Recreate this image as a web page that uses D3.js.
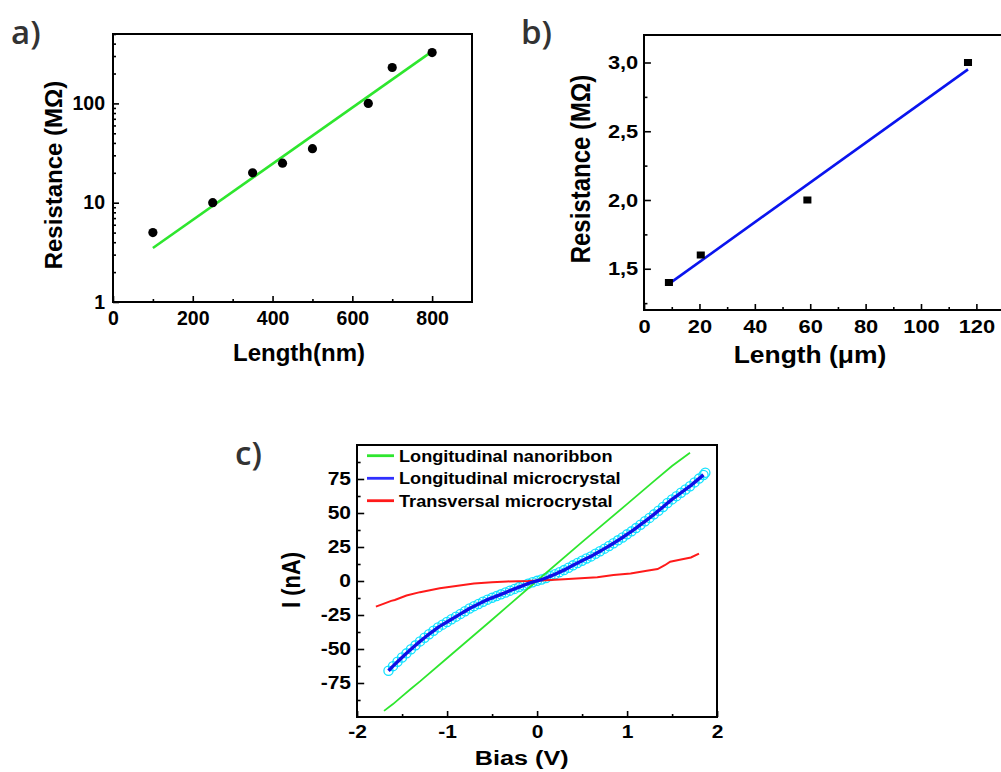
<!DOCTYPE html>
<html><head><meta charset="utf-8">
<script src="https://cdn.jsdelivr.net/npm/d3@7"></script>
<style>body{margin:0;background:#fff} svg{display:block}</style>
</head><body><svg id="chart" width="1001" height="772"></svg>
<script>
// ---------- data: panel a ----------
const aLength = [100, 250, 350, 425, 500, 640, 700, 800];
const aResistance = [5, 10, 20, 25, 35, 100, 230, 325];
const aFitLength = [100, 800];
const aFitResistance = [3.5, 334];
const aXTicks = [0, 200, 400, 600, 800];
const aXTickLabels = ["0", "200", "400", "600", "800"];
const aXMinor = [100, 300, 500, 700];
const aYTicks = [1, 10, 100];
const aYTickLabels = ["1", "10", "100"];
const aYMinor = [2,3,4,5,6,7,8,9,20,30,40,50,60,70,80,90,200,300,400,500];

// ---------- data: panel b ----------
const bLength = [9, 20.5, 59, 117];
const bResistance = [1.4, 1.6, 2.0, 3.0];
const bFitLength = [9, 117];
const bFitResistance = [1.39, 2.95];
const bXTicks = [0, 20, 40, 60, 80, 100, 120];
const bXTickLabels = ["0", "20", "40", "60", "80", "100", "120"];
const bXMinor = [10, 30, 50, 70, 90, 110];
const bYTicks = [1.5, 2.0, 2.5, 3.0];
const bYTickLabels = ["1,5", "2,0", "2,5", "3,0"];
const bYMinor = [1.25, 1.75, 2.25, 2.75];

// ---------- data: panel c ----------
const cNames = ["Longitudinal nanoribbon", "Longitudinal microcrystal", "Transversal microcrystal"];
const cNanoV = [-1.70,-1.60,-1.50,-1.40,-1.30,-1.00,-0.50,0.00,0.50,1.00,1.30,1.50,1.70];
const cNanoI = [-95.5,-90.5,-84.8,-79.2,-73.8,-56.8,-28.5,0.2,28.6,56.5,73.4,84.5,94.3];
const cMicroV = [-1.65,-1.60,-1.55,-1.50,-1.45,-1.40,-1.35,-1.30,-1.25,-1.20,-1.15,-1.10,-1.05,-1.00,-0.95,-0.90,-0.85,-0.80,-0.75,-0.70,-0.65,-0.60,-0.55,-0.50,-0.45,-0.40,-0.35,-0.30,-0.25,-0.20,-0.15,-0.10,-0.05,0.00,0.05,0.10,0.15,0.20,0.25,0.30,0.35,0.40,0.45,0.50,0.55,0.60,0.65,0.70,0.75,0.80,0.85,0.90,0.95,1.00,1.05,1.10,1.15,1.20,1.25,1.30,1.35,1.40,1.45,1.50,1.55,1.60,1.65,1.70,1.75,1.80,1.85,1.87];
const cMicroI = [-66.0,-62.6,-59.4,-56.2,-53.2,-50.2,-47.3,-44.4,-41.7,-39.1,-36.6,-34.1,-32.1,-30.1,-28.1,-26.2,-24.2,-22.2,-20.2,-18.5,-16.9,-15.3,-13.7,-12.4,-11.1,-9.8,-8.5,-7.1,-5.8,-4.5,-3.2,-2.0,-0.9,0.1,1.1,2.2,3.6,5.0,6.5,8.0,9.7,11.5,13.2,14.9,16.6,18.1,20.0,21.9,23.8,25.7,27.8,29.9,32.0,34.3,36.5,38.9,41.4,43.9,46.4,49.0,51.7,54.4,57.3,60.0,62.4,64.9,67.3,69.7,72.5,75.3,78.0,79.6];
const cTransV = [-1.79,-1.70,-1.62,-1.58,-1.45,-1.30,-1.08,-0.90,-0.70,-0.50,-0.33,-0.10,0.15,0.30,0.67,0.85,1.04,1.22,1.34,1.38,1.42,1.48,1.60,1.71,1.80];
const cTransI = [-18.8,-16.6,-14.6,-14.0,-10.7,-8.2,-5.4,-3.6,-1.9,-0.9,-0.3,0.0,0.7,1.2,2.7,4.4,5.6,7.5,8.8,10.2,11.6,14.2,15.8,17.3,20.2];
const cXTicks = [-2, -1, 0, 1, 2];
const cXTickLabels = ["-2", "-1", "0", "1", "2"];
const cXMinor = [-1.5, -0.5, 0.5, 1.5];
const cYTicks = [-75, -50, -25, 0, 25, 50, 75];
const cYTickLabels = ["-75", "-50", "-25", "0", "25", "50", "75"];
const cYMinor = [-87.5, -62.5, -37.5, -12.5, 12.5, 37.5, 62.5, 87.5];

// ---------- drawing ----------
const FONT = "'Liberation Sans', Arial, Helvetica, sans-serif";
const svg = d3.select("#chart");
svg.append("rect").attr("width", 1001).attr("height", 772).attr("fill", "#fff");

const zip = (a, b) => a.map((v, i) => [v, b[i]]);

function drawAxes(g, x, y, iw, ih, o) {
  const lab = (ticks, labels) => d => labels[ticks.indexOf(d)];
  const style = sel => {
    sel.select(".domain").remove();
    sel.attr("font-family", FONT).attr("font-size", o.fs).attr("font-weight", "bold");
    sel.selectAll("line").attr("stroke", "#000").attr("stroke-width", 1.6).attr("vector-effect", "non-scaling-stroke");
    sel.selectAll("text").attr("fill", "#000");
  };
  g.append("g").attr("transform", `translate(0,${ih})`)
    .call(d3.axisBottom(x).tickValues(o.xt).tickFormat(lab(o.xt, o.xl)).tickSize(-6).tickSizeOuter(0).tickPadding(o.xpad)).call(style);
  g.append("g").attr("transform", `translate(0,${ih})`)
    .call(d3.axisBottom(x).tickValues(o.xm).tickFormat("").tickSize(-3).tickSizeOuter(0)).call(style);
  g.append("g")
    .call(d3.axisLeft(y).tickValues(o.yt).tickFormat(lab(o.yt, o.yl)).tickSize(-6).tickSizeOuter(0).tickPadding(o.ypad)).call(style);
  g.append("g")
    .call(d3.axisLeft(y).tickValues(o.ym).tickFormat("").tickSize(-3).tickSizeOuter(0)).call(style);
}
function frame(g, iw, ih) {
  g.append("rect").attr("width", iw).attr("height", ih).attr("fill", "none")
    .attr("stroke", "#000").attr("stroke-width", 2).attr("vector-effect", "non-scaling-stroke");
}
function title(g, txt, x, y, fs, rot) {
  const t = g.append("text").attr("font-family", FONT).attr("font-weight", "bold")
    .attr("font-size", fs).attr("text-anchor", "middle").attr("fill", "#000").text(txt);
  if (rot) t.attr("transform", `translate(${x},${y}) rotate(-90)`);
  else t.attr("x", x).attr("y", y);
  return t;
}
function panelLabel(txt, x, y) {
  svg.append("text").attr("x", x).attr("y", y).attr("font-family", "'Open Sans', 'DejaVu Sans', sans-serif")
    .attr("font-weight", 600).attr("font-size", 33).attr("fill", "#333").text(txt);
}

// ----- panel a -----
{
  const X0 = 113, Y0 = 34, SX = 1.0, W = 359, H = 268;
  const iw = W / SX, ih = H;
  const g = svg.append("g").attr("transform", `translate(${X0},${Y0}) scale(${SX},1)`);
  const x = d3.scaleLinear().domain([0, 900]).range([0, iw]);
  const y = d3.scaleLog().domain([1, 500]).range([ih, 0]);
  drawAxes(g, x, y, iw, ih, {fs: 19.5, xt: aXTicks, xl: aXTickLabels, xm: aXMinor, yt: aYTicks, yl: aYTickLabels, ym: aYMinor, xpad: 9.3, ypad: 8});
  g.append("path").datum(zip(aFitLength, aFitResistance))
    .attr("d", d3.line().x(d => x(d[0])).y(d => y(d[1])))
    .attr("fill", "none").attr("stroke", "#2ee62e").attr("stroke-width", 2.6);
  g.selectAll("circle.pt").data(zip(aLength, aResistance)).join("circle")
    .attr("cx", d => x(d[0])).attr("cy", d => y(d[1])).attr("r", 4.6).attr("fill", "#000");
  frame(g, iw, ih);
  title(g, "Length(nm)", (299 - X0) / SX, 361 - Y0, 24, false);
  title(g, "Resistance (M\u03A9)", (62 - X0) / SX, 175 - Y0, 24, true);
  panelLabel("a)", 11, 44);
}

// ----- panel b -----
{
  const X0 = 644, Y0 = 35, SX = 1.15, W = 360, H = 275;
  const iw = W / SX, ih = H;
  const g = svg.append("g").attr("transform", `translate(${X0},${Y0}) scale(${SX},1)`);
  const x = d3.scaleLinear().domain([0, 130]).range([0, iw]);
  const y = d3.scaleLinear().domain([1.2, 3.2]).range([ih, 0]);
  drawAxes(g, x, y, iw, ih, {fs: 19, xt: bXTicks, xl: bXTickLabels, xm: bXMinor, yt: bYTicks, yl: bYTickLabels, ym: bYMinor, xpad: 9.5, ypad: 5});
  g.append("path").datum(zip(bFitLength, bFitResistance))
    .attr("d", d3.line().x(d => x(d[0])).y(d => y(d[1])))
    .attr("fill", "none").attr("stroke", "#0a14ee").attr("stroke-width", 2.6).attr("vector-effect", "non-scaling-stroke");
  const s = 7;
  g.selectAll("rect.pt").data(zip(bLength, bResistance)).join("rect")
    .attr("x", d => x(d[0]) - s / 2).attr("y", d => y(d[1]) - s / 2).attr("width", s).attr("height", s).attr("fill", "#000");
  frame(g, iw, ih);
  title(g, "Length (\u03BCm)", (810 - X0) / SX, 363 - Y0, 23, false);
  title(g, "Resistance (M\u03A9)", (590 - X0) / SX, 169 - Y0, 24, true);
  panelLabel("b)", 521, 44);
}

// ----- panel c -----
{
  const X0 = 357, Y0 = 445, SX = 1.2, W = 360, H = 272;
  const iw = W / SX, ih = H;
  const g = svg.append("g").attr("transform", `translate(${X0},${Y0}) scale(${SX},1)`);
  const x = d3.scaleLinear().domain([-2, 2]).range([0, iw]);
  const y = d3.scaleLinear().domain([-100, 100]).range([ih, 0]);
  drawAxes(g, x, y, iw, ih, {fs: 17.5, xt: cXTicks, xl: cXTickLabels, xm: cXMinor, yt: cYTicks, yl: cYTickLabels, ym: cYMinor, xpad: 8.6, ypad: 5});
  const line = d3.line().x(d => x(d[0])).y(d => y(d[1]));
  const colors = ["#2ee62e", "#1010e6", "#ff1a1a"];
  // cyan open circles along microcrystal data
  g.selectAll("ellipse.mc").data(zip(cMicroV, cMicroI)).join("ellipse")
    .attr("cx", d => x(d[0])).attr("cy", d => y(d[1])).attr("rx", 4.6 / SX).attr("ry", 4.6)
    .attr("fill", "none").attr("stroke", "#12e2ff").attr("stroke-width", 1.3).attr("vector-effect", "non-scaling-stroke");
  g.append("path").datum(zip(cNanoV, cNanoI)).attr("d", line)
    .attr("fill", "none").attr("stroke", colors[0]).attr("stroke-width", 1.8).attr("vector-effect", "non-scaling-stroke");
  g.append("path").datum(zip(cTransV, cTransI)).attr("d", line)
    .attr("fill", "none").attr("stroke", colors[2]).attr("stroke-width", 2).attr("vector-effect", "non-scaling-stroke");
  g.append("path").datum(zip(cMicroV.slice(0, -1), cMicroI.slice(0, -1))).attr("d", line)
    .attr("fill", "none").attr("stroke", colors[1]).attr("stroke-width", 3.4).attr("stroke-linejoin", "round").attr("vector-effect", "non-scaling-stroke");
  frame(g, iw, ih);
  // legend
  const rows = [455.7, 478.3, 500.7];
  cNames.forEach((name, i) => {
    const yy = rows[i] - Y0;
    g.append("line").attr("x1", (367 - X0) / SX).attr("x2", (394 - X0) / SX).attr("y1", yy).attr("y2", yy)
      .attr("stroke", colors[i] === "#1010e6" ? "#3030ff" : colors[i]).attr("stroke-width", 2.8).attr("vector-effect", "non-scaling-stroke");
    g.append("g").attr("transform", `translate(${(399 - X0) / SX},${yy}) scale(0.9,1)`)
      .append("text").attr("dy", "0.35em").attr("font-family", FONT).attr("font-weight", "bold")
      .attr("font-size", 16.8).attr("fill", "#000").text(name);
  });
  title(g, "Bias (V)", (521.7 - X0) / SX, 765 - Y0, 21, false);
  title(g, "I (nA)", (300 - X0) / SX, 580 - Y0, 22, true);
  panelLabel("c)", 235, 465);
}
</script></body></html>
